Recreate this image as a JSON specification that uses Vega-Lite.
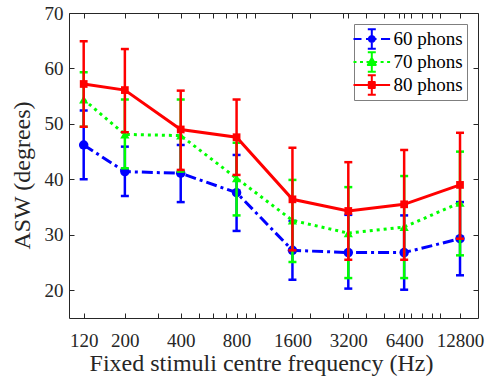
{
  "$schema": "https://vega.github.io/schema/vega-lite/v6.json",
  "width": 409,
  "height": 305,
  "autosize": "none",
  "padding": {"left": 69, "top": 13, "right": 12, "bottom": 67},
  "background": "white",
  "config": {
    "view": {"stroke": "#262626", "strokeWidth": 1},
    "axis": {"grid": false, "domain": false, "labelFont": "Liberation Serif", "titleFont": "Liberation Serif", "labelColor": "#262626", "titleColor": "#262626", "tickColor": "#262626", "labelFontSize": 19, "titleFontSize": 24, "titleFontWeight": "normal"},
    "legend": {"labelFont": "Liberation Serif", "labelFontSize": 19, "labelColor": "black"}
  },
  "data": {"values": [
    {"freq": 120, "series": "60 phons", "mean": 46.2, "lo": 40.0, "hi": 52.4},
    {"freq": 200, "series": "60 phons", "mean": 41.4, "lo": 37.0, "hi": 45.9},
    {"freq": 400, "series": "60 phons", "mean": 41.1, "lo": 35.9, "hi": 46.2},
    {"freq": 800, "series": "60 phons", "mean": 37.6, "lo": 30.7, "hi": 44.4},
    {"freq": 1600, "series": "60 phons", "mean": 27.2, "lo": 21.9, "hi": 32.5},
    {"freq": 3200, "series": "60 phons", "mean": 26.8, "lo": 20.3, "hi": 33.6},
    {"freq": 6400, "series": "60 phons", "mean": 26.8, "lo": 20.1, "hi": 33.5},
    {"freq": 12800, "series": "60 phons", "mean": 29.3, "lo": 22.7, "hi": 35.9},
    {"freq": 120, "series": "70 phons", "mean": 54.4, "lo": 49.5, "hi": 59.3},
    {"freq": 200, "series": "70 phons", "mean": 48.1, "lo": 42.0, "hi": 54.4},
    {"freq": 400, "series": "70 phons", "mean": 47.9, "lo": 41.4, "hi": 54.4},
    {"freq": 800, "series": "70 phons", "mean": 40.2, "lo": 33.5, "hi": 46.6},
    {"freq": 1600, "series": "70 phons", "mean": 32.6, "lo": 25.1, "hi": 39.9},
    {"freq": 3200, "series": "70 phons", "mean": 30.3, "lo": 22.2, "hi": 38.6},
    {"freq": 6400, "series": "70 phons", "mean": 31.4, "lo": 22.2, "hi": 40.6},
    {"freq": 12800, "series": "70 phons", "mean": 35.8, "lo": 26.3, "hi": 45.0},
    {"freq": 120, "series": "80 phons", "mean": 57.2, "lo": 49.5, "hi": 64.9},
    {"freq": 200, "series": "80 phons", "mean": 56.1, "lo": 48.5, "hi": 63.5},
    {"freq": 400, "series": "80 phons", "mean": 49.0, "lo": 41.7, "hi": 56.0},
    {"freq": 800, "series": "80 phons", "mean": 47.6, "lo": 40.8, "hi": 54.4},
    {"freq": 1600, "series": "80 phons", "mean": 36.4, "lo": 27.2, "hi": 45.7},
    {"freq": 3200, "series": "80 phons", "mean": 34.3, "lo": 25.5, "hi": 43.1},
    {"freq": 6400, "series": "80 phons", "mean": 35.5, "lo": 25.5, "hi": 45.3},
    {"freq": 12800, "series": "80 phons", "mean": 39.0, "lo": 29.3, "hi": 48.4}
  ]},
  "layer": [
    {
      "mark": {"type": "point", "opacity": 0},
      "encoding": {
        "x": {"field": "freq", "type": "quantitative", "scale": {"type": "log", "domain": [100, 16000]},
          "axis": {"orient": "bottom", "title": "Fixed stimuli centre frequency (Hz)", "values": [120, 200, 300, 400, 500, 600, 700, 800, 900, 1000, 1600, 2000, 3000, 3200, 4000, 5000, 6000, 6400, 7000, 8000, 9000, 10000, 12800],
            "labelExpr": "indexof([120,200,400,800,1600,3200,6400,12800], datum.value) >= 0 ? '' + datum.value : ''",
            "tickSize": -5, "labelPadding": 18, "labelOverlap": false, "titlePadding": 1, "titleX": 192,
            "encode": {"ticks": {"update": {"y2": {"signal": "indexof([120,200,400,800,1600,3200,6400,12800], datum.value) >= 0 ? -5 : -2.5"}}}}}},
        "y": {"field": "mean", "type": "quantitative", "scale": {"domain": [15, 70]},
          "axis": {"orient": "left", "title": "ASW (degrees)", "values": [20, 30, 40, 50, 60, 70], "tickSize": -5, "labelPadding": 11, "titlePadding": 10, "titleY": 162}}
      }
    },
    {
      "encoding": {
        "x": {"field": "freq", "type": "quantitative", "scale": {"type": "log", "domain": [100, 16000]}, "axis": null},
        "y": {"field": "mean", "type": "quantitative", "scale": {"domain": [15, 70]}, "axis": null},
        "color": {"field": "series", "type": "nominal",
          "scale": {"domain": ["60 phons", "70 phons", "80 phons"], "range": ["#0000ff", "#00ff00", "#ff0000"]},
          "legend": {"title": null, "orient": "top-right", "offset": 11, "strokeColor": "#7f7f7f", "fillColor": "white", "padding": 4, "rowPadding": 1, "symbolSize": 400, "labelOffset": 13.5,
            "encode": {"symbols": {"update": {
              "shape": {"signal": "datum.value === '60 phons' ? 'M-1.55,0H-0.75M-0.3,0H-0.1M0.35,0H0.75M1.2,0H2.11M0.28,-0.97V0.97M-0.12,-0.97H0.68M-0.12,0.97H0.68M0.58,0L0.54,0.15L0.43,0.26L0.28,0.3L0.13,0.26L0.02,0.15L-0.02,0L0.02,-0.15L0.13,-0.26L0.28,-0.3L0.43,-0.26L0.54,-0.15Z' : datum.value === '70 phons' ? 'M-1.55,0H-1.25M-0.9,0H-0.6M-0.25,0H0.05M0.51,0H0.81M1.16,0H1.46M1.81,0H2.11M0.28,-0.97V0.97M-0.12,-0.97H0.68M-0.12,0.97H0.68M0.28,-0.4L0.68,0.3L-0.12,0.3Z' : 'M-1.55,0H2.11M0.28,-0.97V0.97M-0.12,-0.97H0.68M-0.12,0.97H0.68M-0.02,-0.3H0.58V0.3H-0.02Z'"},
              "fill": {"signal": "scale('color', datum.value)"},
              "stroke": {"signal": "scale('color', datum.value)"},
              "strokeWidth": {"value": 2},
              "strokeJoin": {"value": "round"},
              "strokeDash": {"value": []},
              "size": {"value": 400},
              "opacity": {"value": 1}}}}}}
      },
      "layer": [
        {"transform": [{"filter": "datum.series === '60 phons'"}],
          "layer": [
            {"mark": {"type": "rule", "strokeWidth": 2.5}, "encoding": {"y": {"field": "lo", "type": "quantitative", "axis": null}, "y2": {"field": "hi"}}},
            {"mark": {"type": "tick", "orient": "horizontal", "size": 8, "thickness": 2.5, "opacity": 1}, "encoding": {"y": {"field": "lo", "type": "quantitative", "axis": null}}},
            {"mark": {"type": "tick", "orient": "horizontal", "size": 8, "thickness": 2.5, "opacity": 1}, "encoding": {"y": {"field": "hi", "type": "quantitative", "axis": null}}},
            {"mark": {"type": "line", "strokeWidth": 3, "strokeDash": [11, 4, 3, 4]}, "encoding": {}},
            {"mark": {"type": "point", "shape": "circle", "filled": true, "size": 90, "opacity": 1}, "encoding": {}}
          ]},
        {"transform": [{"filter": "datum.series === '70 phons'"}],
          "layer": [
            {"mark": {"type": "rule", "strokeWidth": 2.5}, "encoding": {"y": {"field": "lo", "type": "quantitative", "axis": null}, "y2": {"field": "hi"}}},
            {"mark": {"type": "tick", "orient": "horizontal", "size": 8, "thickness": 2.5, "opacity": 1}, "encoding": {"y": {"field": "lo", "type": "quantitative", "axis": null}}},
            {"mark": {"type": "tick", "orient": "horizontal", "size": 8, "thickness": 2.5, "opacity": 1}, "encoding": {"y": {"field": "hi", "type": "quantitative", "axis": null}}},
            {"mark": {"type": "line", "strokeWidth": 3, "strokeDash": [3, 4]}, "encoding": {}},
            {"mark": {"type": "point", "shape": "triangle-up", "filled": true, "size": 85, "opacity": 1}, "encoding": {}}
          ]},
        {"transform": [{"filter": "datum.series === '80 phons'"}],
          "layer": [
            {"mark": {"type": "rule", "strokeWidth": 2.5}, "encoding": {"y": {"field": "lo", "type": "quantitative", "axis": null}, "y2": {"field": "hi"}}},
            {"mark": {"type": "tick", "orient": "horizontal", "size": 8, "thickness": 2.5, "opacity": 1}, "encoding": {"y": {"field": "lo", "type": "quantitative", "axis": null}}},
            {"mark": {"type": "tick", "orient": "horizontal", "size": 8, "thickness": 2.5, "opacity": 1}, "encoding": {"y": {"field": "hi", "type": "quantitative", "axis": null}}},
            {"mark": {"type": "line", "strokeWidth": 3}, "encoding": {}},
            {"mark": {"type": "square", "filled": true, "size": 60, "opacity": 1}, "encoding": {}}
          ]}
      ]
    },
    {
      "mark": {"type": "point", "opacity": 0},
      "encoding": {
        "x": {"field": "freq", "type": "quantitative", "scale": {"type": "log", "domain": [100, 16000]},
          "axis": {"orient": "top", "title": null, "labels": false, "values": [120, 200, 300, 400, 500, 600, 700, 800, 900, 1000, 1600, 2000, 3000, 3200, 4000, 5000, 6000, 6400, 7000, 8000, 9000, 10000, 12800], "tickSize": -5,
            "encode": {"ticks": {"update": {"y2": {"signal": "indexof([120,200,400,800,1600,3200,6400,12800], datum.value) >= 0 ? 5 : 2.5"}}}}}},
        "y": {"field": "mean", "type": "quantitative", "scale": {"domain": [15, 70]},
          "axis": {"orient": "right", "title": null, "labels": false, "values": [20, 30, 40, 50, 60, 70], "tickSize": -5}}
      }
    }
  ],
  "resolve": {"axis": {"x": "independent", "y": "independent"}}
}
